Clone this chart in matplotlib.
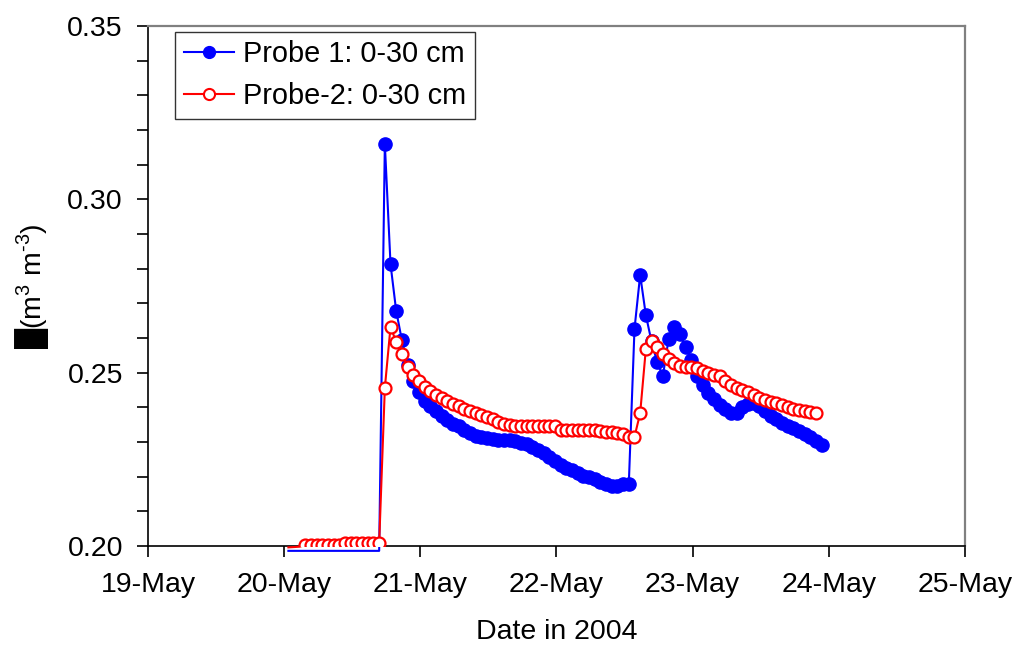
import numpy as np
import pandas as pd
import matplotlib
matplotlib.use("Agg")
import matplotlib.pyplot as plt
import matplotlib.dates as mdates
from matplotlib.ticker import MultipleLocator, FormatStrFormatter

plt.rcParams['font.family'] = ['Liberation Sans', 'DejaVu Sans']
plt.rcParams['mathtext.fontset'] = 'custom'
plt.rcParams['mathtext.rm'] = 'Liberation Sans'
plt.rcParams['mathtext.it'] = 'Liberation Sans'

# hourly readings, starting 20-May-2004 00:45
start = "2004-05-20 00:45"

probe1 = [0.1986] * 17 + [
    0.3160, 0.2813, 0.2678, 0.2594, 0.2522, 0.2477, 0.2443, 0.2419, 0.2405, 0.2388,
    0.2376, 0.2364, 0.2353, 0.2346, 0.2335, 0.2325, 0.2318, 0.2314, 0.2311, 0.2308,
    0.2307, 0.2306, 0.2305, 0.2303, 0.2298, 0.2293, 0.2287, 0.2278, 0.2267, 0.2256,
    0.2245, 0.2235, 0.2226, 0.2218, 0.2210, 0.2203, 0.2198, 0.2192, 0.2186, 0.2178,
    0.2172, 0.2172, 0.2178, 0.2180, 0.2626, 0.2782, 0.2666, 0.2590, 0.2530, 0.2490,
    0.2596, 0.2631, 0.2611, 0.2573, 0.2537, 0.2490, 0.2464, 0.2442, 0.2423, 0.2407,
    0.2395, 0.2385, 0.2383, 0.2400, 0.2410, 0.2412, 0.2403, 0.2390, 0.2376, 0.2366,
    0.2356, 0.2347, 0.2339, 0.2331, 0.2322, 0.2313, 0.2303, 0.2292]

probe2 = [0.1996, 0.1997, 0.1998] + [0.2003] * 7 + [0.2008] * 7 + [
    0.2456, 0.2632, 0.2589, 0.2554, 0.2517, 0.2493, 0.2476, 0.2460, 0.2448, 0.2436,
    0.2427, 0.2419, 0.2411, 0.2404, 0.2396, 0.2389, 0.2383, 0.2378, 0.2371, 0.2365,
    0.2358, 0.2353, 0.2348, 0.2346, 0.2346, 0.2346, 0.2346, 0.2346, 0.2346, 0.2346,
    0.2346, 0.2336, 0.2335, 0.2335, 0.2335, 0.2335, 0.2335, 0.2335, 0.2331, 0.2330,
    0.2329, 0.2327, 0.2324, 0.2315, 0.2315, 0.2383, 0.2568, 0.2591, 0.2575, 0.2553,
    0.2539, 0.2527, 0.2519, 0.2517, 0.2516, 0.2512, 0.2506, 0.2500, 0.2494, 0.2489,
    0.2476, 0.2465, 0.2457, 0.2450, 0.2443, 0.2435, 0.2428, 0.2421, 0.2416, 0.2413,
    0.2407, 0.2400, 0.2395, 0.2392, 0.2389, 0.2387, 0.2383]

t1 = pd.date_range(start, periods=len(probe1), freq="h")
t2 = pd.date_range(start, periods=len(probe2), freq="h")
p1 = np.array(probe1)
p2 = np.array(probe2)

fig = plt.figure(figsize=(10.19, 6.46), dpi=100)
ax = fig.add_axes([0.1452, 0.1548, 0.8018, 0.805])

# lines (not clipped, like the excel original) and markers (clipped at the axis)
ax.plot(t1, p1, color="blue", lw=1.5, clip_on=False, zorder=3)
ax.plot(t1[p1 >= 0.2], p1[p1 >= 0.2], ls="none", marker="o", ms=9.5,
        color="blue", zorder=3)
ax.plot(t2, p2, color="red", lw=1.5, clip_on=False, zorder=4)
ax.plot(t2[p2 >= 0.2], p2[p2 >= 0.2], ls="none", marker="o", ms=8.6, mfc="white",
        mec="red", mew=1.6, zorder=4)

h1, = ax.plot([], [], color="blue", lw=1.5, marker="o", ms=8.5)
h2, = ax.plot([], [], color="red", lw=1.5, marker="o", ms=8, mfc="white", mec="red", mew=1.5)
leg = ax.legend([h1, h2], ["Probe 1: 0-30 cm", "Probe-2: 0-30 cm"], loc="upper left",
                bbox_to_anchor=(0.033, 0.989), fontsize=20.8, frameon=True, fancybox=False,
                handlelength=1.76, handletextpad=0.3, borderpad=0.3, labelspacing=0.48,
                borderaxespad=0)
leg.get_frame().set_edgecolor("black")
leg.get_frame().set_linewidth(1.0)

ax.set_xlim(pd.Timestamp("2004-05-19"), pd.Timestamp("2004-05-25"))
ax.set_ylim(0.20, 0.35)
ax.xaxis.set_major_locator(mdates.DayLocator())
ax.xaxis.set_major_formatter(mdates.DateFormatter("%d-%b"))
ax.yaxis.set_major_locator(MultipleLocator(0.05))
ax.yaxis.set_minor_locator(MultipleLocator(0.01))
ax.yaxis.set_major_formatter(FormatStrFormatter("%.2f"))
ax.tick_params(axis="both", which="both", direction="out", length=8, width=1.2,
               labelsize=20.5, color="black")
ax.tick_params(axis="x", pad=11)
ax.tick_params(axis="y", pad=10)

for s in ["left", "bottom"]:
    ax.spines[s].set_color("black")
    ax.spines[s].set_linewidth(1.2)
for s in ["top", "right"]:
    ax.spines[s].set_color("gray")
    ax.spines[s].set_linewidth(1.6)

ax.set_xlabel("Date in 2004", fontsize=20.5, labelpad=15)
ax.set_ylabel("\u2588(m$^3$ m$^{\u20103}$)", fontsize=20.5, labelpad=12)

fig.savefig("out.png", dpi=100)
